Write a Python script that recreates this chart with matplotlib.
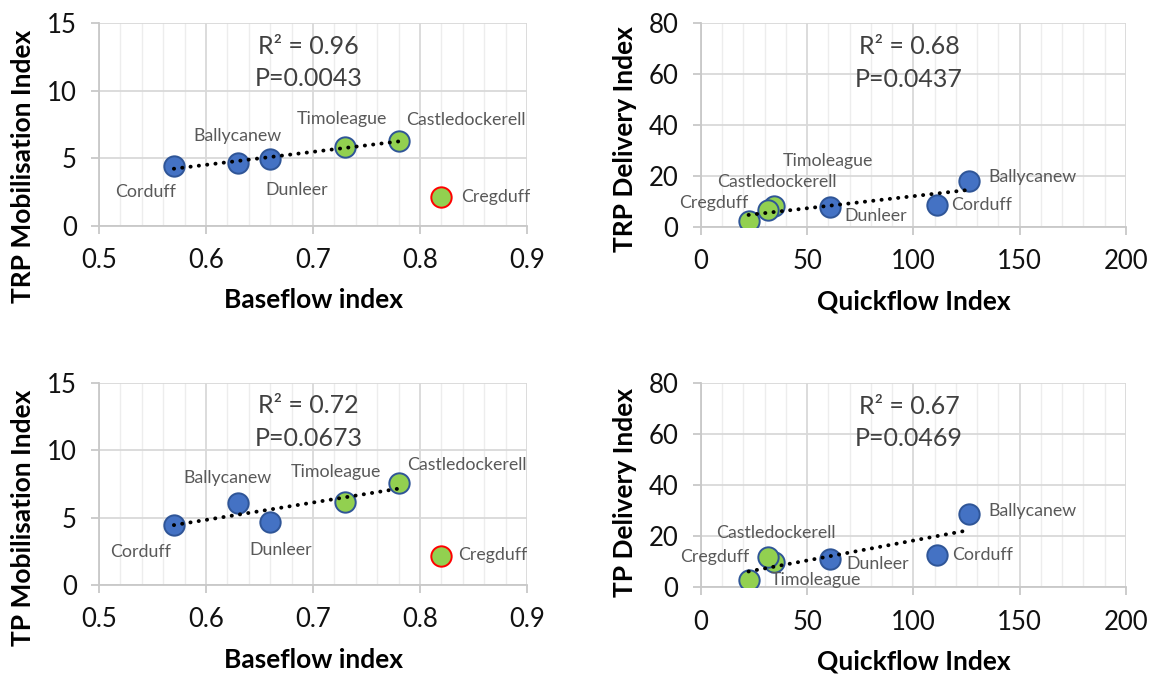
import numpy as np
import matplotlib.pyplot as plt
from matplotlib.ticker import MultipleLocator

plt.rcParams['font.family'] = ['Lato', 'DejaVu Sans']

# Sites, in plotting order
sites = ["Corduff", "Ballycanew", "Dunleer", "Timoleague", "Castledockerell", "Cregduff"]

# x variables
baseflow = [0.57, 0.63, 0.66, 0.73, 0.78, 0.82]
quickflow = [111, 126, 61, 22.5, 34.3, 31.6]

# y variables
trp_mob = [4.43, 4.62, 4.92, 5.86, 6.30, 2.15]
tp_mob = [4.45, 6.06, 4.69, 6.13, 7.58, 2.15]
trp_del = [8.7, 18.3, 8.1, 2.5, 8.5, 6.8]
tp_del = [12.6, 28.6, 10.9, 2.8, 9.8, 11.7]

# stats text
stats_trp_mob = ["R\u00b2 = 0.96", "P=0.0043"]
stats_trp_del = ["R\u00b2 = 0.68", "P=0.0437"]
stats_tp_mob = ["R\u00b2 = 0.72", "P=0.0673"]
stats_tp_del = ["R\u00b2 = 0.67", "P=0.0469"]

BLUE = "#4472C4"
DARKBLUE = "#2F5597"
GREEN = "#92D050"
RED = "#FF0000"
# fill colours per site (blue catchments vs green catchments)
fills = [BLUE, BLUE, BLUE, GREEN, GREEN, GREEN]

# label offsets in pixels (dx, dy, ha)
lab_tl = [(-28, -26, 'center'), (-1, 27, 'center'), (26, -31, 'center'),
          (-3, 28, 'center'), (7, 21, 'left'), (20, 0, 'left')]
lab_bl = [(-33, -27, 'center'), (-11, 25, 'center'), (10, -28, 'center'),
          (-9, 30, 'center'), (8, 18, 'left'), (17, 1, 'left')]
lab_tr = [(14, 0, 'left'), (20, 4, 'left'), (14, -9, 'left'),
          (79, 60, 'center'), (3, 24, 'center'), (-20, 7, 'right')]
lab_br = [(15, 0, 'left'), (20, 3, 'left'), (16, -5, 'left'),
          (22, 0, 'left'), (2, 29, 'center'), (-19, 0, 'right')]

fig = plt.figure(figsize=(11.51, 6.74), dpi=100)


def panel(rect, x, y, xlim, ylim, xmaj, xmin, ymaj, xlabel, ylabel, ylab_y,
          stats, labels, fit_idx, red_edge, xfmt):
    ax = fig.add_axes(rect)
    ax.set_xlim(*xlim)
    ax.set_ylim(*ylim)
    ax.xaxis.set_major_locator(MultipleLocator(xmaj))
    ax.xaxis.set_minor_locator(MultipleLocator(xmin))
    ax.yaxis.set_major_locator(MultipleLocator(ymaj))
    ax.xaxis.set_major_formatter(xfmt)
    ax.grid(which='major', color='#D9D9D9', lw=1.3, zorder=0)
    ax.grid(which='minor', axis='x', color='#EDEDED', lw=1.0, zorder=0)
    for s in ['top', 'right']:
        ax.spines[s].set_visible(False)
    for s in ['left', 'bottom']:
        ax.spines[s].set_color('#C8C8C8')
        ax.spines[s].set_linewidth(1.3)
    ax.tick_params(which='major', length=6, width=1.3, color='#C8C8C8',
                   labelsize=18.5, pad=10, labelcolor='#111111')
    ax.tick_params(which='minor', length=0)
    ax.set_axisbelow(True)

    for i in range(len(x)):
        edge = RED if (red_edge and sites[i] == "Cregduff") else DARKBLUE
        ax.scatter(x[i], y[i], s=215, c=fills[i], edgecolors=edge,
                   linewidths=1.4, zorder=3)
        dx, dy, ha = labels[i]
        ax.annotate(sites[i], (x[i], y[i]), xytext=(dx * 0.72, dy * 0.72),
                    textcoords='offset points', ha=ha, va='center',
                    fontsize=12.8, color='#595959', zorder=5)

    xf = np.array([x[i] for i in fit_idx])
    yf = np.array([y[i] for i in fit_idx])
    k, b = np.polyfit(xf, yf, 1)
    xx = np.array([xf.min(), xf.max()])
    ax.plot(xx, k * xx + b, color='black', lw=2.8,
            linestyle=(0, (0.05, 2.1)), dash_capstyle='round', zorder=4)

    ax.text(0.49, 0.885, stats[0], transform=ax.transAxes, ha='center',
            va='center', fontsize=18, color='#404040')
    ax.text(0.49, 0.725, stats[1], transform=ax.transAxes, ha='center',
            va='center', fontsize=18, color='#404040')

    ax.set_xlabel(xlabel, fontsize=19, fontweight='bold', labelpad=11)
    ax.set_ylabel(ylabel, fontsize=19, fontweight='bold')
    width_px = rect[2] * 1151
    ax.yaxis.set_label_coords(-64.0 / width_px, ylab_y)
    return ax


fmt1 = plt.FuncFormatter(lambda v, p: "%.1f" % v)
fmt0 = plt.FuncFormatter(lambda v, p: "%d" % round(v))

all_idx = list(range(6))
no_creg = list(range(5))

panel([0.0860, 0.6651, 0.3719, 0.3003], baseflow, trp_mob, (0.5, 0.9), (0, 15),
      0.1, 0.02, 5, "Baseflow index", "TRP Mobilisation Index", 0.295,
      stats_trp_mob, lab_tl, no_creg, True, fmt1)
panel([0.6088, 0.6628, 0.3695, 0.3027], quickflow, trp_del, (0, 200), (0, 80),
      50, 10, 20, "Quickflow Index", "TRP Delivery Index", 0.43,
      stats_trp_del, lab_tr, all_idx, False, fmt0)
panel([0.0860, 0.1320, 0.3719, 0.3002], baseflow, tp_mob, (0.5, 0.9), (0, 15),
      0.1, 0.02, 5, "Baseflow index", "TP Mobilisation Index", 0.334,
      stats_tp_mob, lab_bl, no_creg, True, fmt1)
panel([0.6088, 0.1286, 0.3695, 0.3036], quickflow, tp_del, (0, 200), (0, 80),
      50, 10, 20, "Quickflow Index", "TP Delivery Index", 0.463,
      stats_tp_del, lab_br, all_idx, False, fmt0)

fig.savefig("out.png", dpi=100)
